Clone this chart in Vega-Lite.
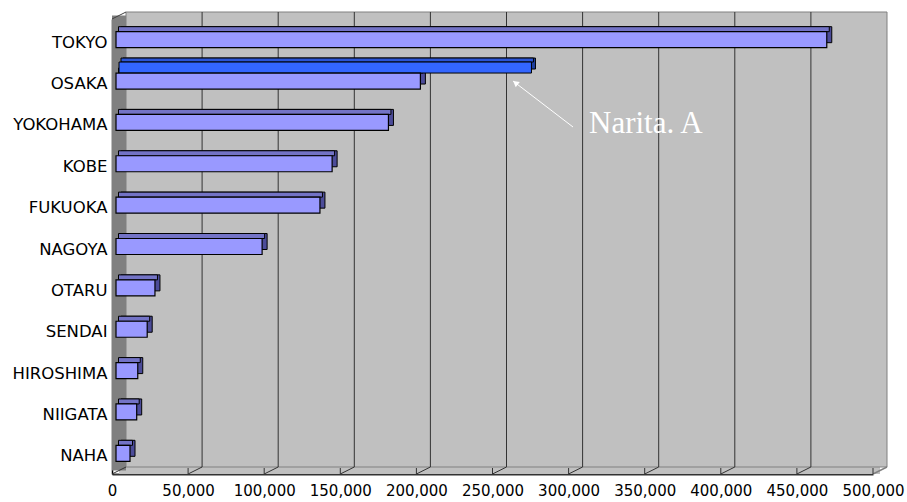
{
  "$schema": "https://vega.github.io/schema/vega-lite/v6.json",
  "width": 761,
  "height": 455,
  "autosize": {"type": "none"},
  "padding": {"left": 112, "top": 19, "right": 34, "bottom": 28},
  "background": "white",
  "config": {
    "view": {"stroke": null},
    "font": "DejaVu Sans",
    "axis": {"grid": false, "ticks": false, "labelColor": "#000000", "labelFont": "DejaVu Sans"},
    "axisX": {"domainColor": "#333333", "domainWidth": 2, "labelFontSize": 15, "labelPadding": 9, "labelFlush": false, "labelOverlap": false},
    "axisY": {"domainColor": "#000000", "domainWidth": 1.5, "labelFontSize": 16.5, "labelPadding": 5, "labelOffset": 3}
  },
  "datasets": {
    "port": [
      {"city": "TOKYO", "value": 467000},
      {"city": "OSAKA", "value": 200000},
      {"city": "YOKOHAMA", "value": 179000},
      {"city": "KOBE", "value": 142000},
      {"city": "FUKUOKA", "value": 134000},
      {"city": "NAGOYA", "value": 96000},
      {"city": "OTARU", "value": 25600},
      {"city": "SENDAI", "value": 20500},
      {"city": "HIROSHIMA", "value": 14300},
      {"city": "NIIGATA", "value": 13600},
      {"city": "NAHA", "value": 9200}
    ],
    "narita": [{"city": "OSAKA", "value": 271000}],
    "ticks": [
      {"v": 0}, {"v": 50000}, {"v": 100000}, {"v": 150000}, {"v": 200000}, {"v": 250000},
      {"v": 300000}, {"v": 350000}, {"v": 400000}, {"v": 450000}, {"v": 500000}
    ],
    "note": [{"label": "Narita. A", "city": "YOKOHAMA", "x": 313400}],
    "arrow": [{"city": "OSAKA", "city2": "YOKOHAMA", "x": 263500, "x2": 302900}],
    "one": [{"k": 1}]
  },
  "layer": [
    {
      "data": {"name": "one"},
      "mark": {"type": "rect", "fill": "#C0C0C0", "xOffset": 7, "x2Offset": 7, "yOffset": -7},
      "encoding": {
        "x": {"datum": 0, "type": "quantitative", "scale": {"domain": [0, 500000], "nice": false}, "title": null, "axis": {"format": ",d", "values": [0, 50000, 100000, 150000, 200000, 250000, 300000, 350000, 400000, 450000, 500000]}},
        "x2": {"datum": 500000},
        "y": {"value": "height"},
        "y2": {"value": "height"}
      }
    },
    {
      "data": {"name": "one"},
      "mark": {"type": "rect", "fill": "#C0C0C0", "stroke": "#808080", "strokeWidth": 1, "xOffset": 14, "x2Offset": 14, "yOffset": -7, "y2Offset": -7},
      "encoding": {
        "x": {"datum": 0, "type": "quantitative", "scale": {"domain": [0, 500000], "nice": false}, "title": null, "axis": {"format": ",d", "values": [0, 50000, 100000, 150000, 200000, 250000, 300000, 350000, 400000, 450000, 500000]}},
        "x2": {"datum": 500000},
        "y": {"value": 0},
        "y2": {"value": "height"}
      }
    },
    {
      "data": {"name": "one"},
      "mark": {"type": "rect", "fill": "#808080", "x2Offset": 14, "yOffset": -3.5, "y2Offset": -3.5},
      "encoding": {
        "x": {"datum": 0, "type": "quantitative", "scale": {"domain": [0, 500000], "nice": false}, "title": null, "axis": {"format": ",d", "values": [0, 50000, 100000, 150000, 200000, 250000, 300000, 350000, 400000, 450000, 500000]}},
        "x2": {"datum": 0},
        "y": {"value": 0},
        "y2": {"value": "height"}
      }
    },
    {
      "data": {"name": "one"},
      "mark": {"type": "rule", "color": "#404040", "strokeWidth": 1, "x2Offset": 14, "y2Offset": -7},
      "encoding": {
        "x": {"datum": 0, "type": "quantitative", "scale": {"domain": [0, 500000], "nice": false}, "title": null, "axis": {"format": ",d", "values": [0, 50000, 100000, 150000, 200000, 250000, 300000, 350000, 400000, 450000, 500000]}},
        "x2": {"datum": 0},
        "y": {"value": 0},
        "y2": {"value": 0}
      }
    },
    {
      "data": {"name": "ticks"},
      "transform": [{"filter": "datum.v > 0 && datum.v < 500000"}],
      "mark": {"type": "rule", "color": "#333333", "strokeWidth": 1, "xOffset": 14, "yOffset": -7, "y2Offset": -7},
      "encoding": {
        "x": {"field": "v", "type": "quantitative", "scale": {"domain": [0, 500000], "nice": false}, "title": null, "axis": {"format": ",d", "values": [0, 50000, 100000, 150000, 200000, 250000, 300000, 350000, 400000, 450000, 500000]}},
        "y": {"value": 0},
        "y2": {"value": "height"}
      }
    },
    {
      "data": {"name": "ticks"},
      "transform": [{"filter": "datum.v < 500000"}],
      "mark": {"type": "rule", "color": "#333333", "strokeWidth": 1, "x2Offset": 14, "y2Offset": -7},
      "encoding": {
        "x": {"field": "v", "type": "quantitative", "scale": {"domain": [0, 500000], "nice": false}, "title": null, "axis": {"format": ",d", "values": [0, 50000, 100000, 150000, 200000, 250000, 300000, 350000, 400000, 450000, 500000]}},
        "x2": {"field": "v"},
        "y": {"value": "height"},
        "y2": {"value": "height"}
      }
    },
    {
      "data": {"name": "ticks"},
      "transform": [{"filter": "datum.v == 500000"}],
      "mark": {"type": "rule", "color": "#808080", "strokeWidth": 1.5, "x2Offset": 14, "y2Offset": -7},
      "encoding": {
        "x": {"field": "v", "type": "quantitative", "scale": {"domain": [0, 500000], "nice": false}, "title": null, "axis": {"format": ",d", "values": [0, 50000, 100000, 150000, 200000, 250000, 300000, 350000, 400000, 450000, 500000]}},
        "x2": {"field": "v"},
        "y": {"value": "height"},
        "y2": {"value": "height"}
      }
    },
    {
      "data": {"name": "ticks"},
      "transform": [{"filter": "datum.v > 0"}],
      "mark": {"type": "rule", "color": "#333333", "strokeWidth": 1, "y2Offset": -6},
      "encoding": {
        "x": {"field": "v", "type": "quantitative", "scale": {"domain": [0, 500000], "nice": false}, "title": null, "axis": {"format": ",d", "values": [0, 50000, 100000, 150000, 200000, 250000, 300000, 350000, 400000, 450000, 500000]}},
        "y": {"value": "height"},
        "y2": {"value": "height"}
      }
    },
    {
      "data": {"name": "port"},
      "mark": {"type": "bar", "size": 16, "fill": "#4C4C99", "stroke": "#000000", "strokeWidth": 1, "xOffset": 9, "x2Offset": 9, "yOffset": -5},
      "encoding": {
        "x": {"field": "value", "type": "quantitative", "scale": {"domain": [0, 500000], "nice": false}, "title": null, "axis": {"format": ",d", "values": [0, 50000, 100000, 150000, 200000, 250000, 300000, 350000, 400000, 450000, 500000]}},
        "x2": {"datum": 0},
        "y": {"field": "city", "type": "nominal", "title": null,
              "scale": {"domain": ["TOKYO", "OSAKA", "YOKOHAMA", "KOBE", "FUKUOKA", "NAGOYA", "OTARU", "SENDAI", "HIROSHIMA", "NIIGATA", "NAHA"], "paddingInner": 0, "paddingOuter": 0}}
      }
    },
    {
      "data": {"name": "port"},
      "mark": {"type": "bar", "size": 5, "fill": "#7373C6", "stroke": "#000000", "strokeWidth": 1, "xOffset": 6.5, "x2Offset": 6.5, "yOffset": -10.5},
      "encoding": {
        "x": {"field": "value", "type": "quantitative", "scale": {"domain": [0, 500000], "nice": false}, "title": null, "axis": {"format": ",d", "values": [0, 50000, 100000, 150000, 200000, 250000, 300000, 350000, 400000, 450000, 500000]}},
        "x2": {"datum": 0},
        "y": {"field": "city", "type": "nominal", "title": null,
              "scale": {"domain": ["TOKYO", "OSAKA", "YOKOHAMA", "KOBE", "FUKUOKA", "NAGOYA", "OTARU", "SENDAI", "HIROSHIMA", "NIIGATA", "NAHA"], "paddingInner": 0, "paddingOuter": 0}}
      }
    },
    {
      "data": {"name": "narita"},
      "mark": {"type": "bar", "size": 11, "fill": "#1F3F9F", "stroke": "#000000", "strokeWidth": 1, "xOffset": 11, "x2Offset": 11, "yOffset": -17.5},
      "encoding": {
        "x": {"field": "value", "type": "quantitative", "scale": {"domain": [0, 500000], "nice": false}, "title": null, "axis": {"format": ",d", "values": [0, 50000, 100000, 150000, 200000, 250000, 300000, 350000, 400000, 450000, 500000]}},
        "x2": {"datum": 0},
        "y": {"field": "city", "type": "nominal", "title": null,
              "scale": {"domain": ["TOKYO", "OSAKA", "YOKOHAMA", "KOBE", "FUKUOKA", "NAGOYA", "OTARU", "SENDAI", "HIROSHIMA", "NIIGATA", "NAHA"], "paddingInner": 0, "paddingOuter": 0}}
      }
    },
    {
      "data": {"name": "narita"},
      "mark": {"type": "bar", "size": 4, "fill": "#2B55D5", "stroke": "#000000", "strokeWidth": 1, "xOffset": 9, "x2Offset": 9, "yOffset": -21},
      "encoding": {
        "x": {"field": "value", "type": "quantitative", "scale": {"domain": [0, 500000], "nice": false}, "title": null, "axis": {"format": ",d", "values": [0, 50000, 100000, 150000, 200000, 250000, 300000, 350000, 400000, 450000, 500000]}},
        "x2": {"datum": 0},
        "y": {"field": "city", "type": "nominal", "title": null,
              "scale": {"domain": ["TOKYO", "OSAKA", "YOKOHAMA", "KOBE", "FUKUOKA", "NAGOYA", "OTARU", "SENDAI", "HIROSHIMA", "NIIGATA", "NAHA"], "paddingInner": 0, "paddingOuter": 0}}
      }
    },
    {
      "data": {"name": "narita"},
      "mark": {"type": "bar", "size": 11, "fill": "#3366FF", "stroke": "#000000", "strokeWidth": 1, "xOffset": 7, "x2Offset": 7, "yOffset": -13.5},
      "encoding": {
        "x": {"field": "value", "type": "quantitative", "scale": {"domain": [0, 500000], "nice": false}, "title": null, "axis": {"format": ",d", "values": [0, 50000, 100000, 150000, 200000, 250000, 300000, 350000, 400000, 450000, 500000]}},
        "x2": {"datum": 0},
        "y": {"field": "city", "type": "nominal", "title": null,
              "scale": {"domain": ["TOKYO", "OSAKA", "YOKOHAMA", "KOBE", "FUKUOKA", "NAGOYA", "OTARU", "SENDAI", "HIROSHIMA", "NIIGATA", "NAHA"], "paddingInner": 0, "paddingOuter": 0}}
      }
    },
    {
      "data": {"name": "port"},
      "mark": {"type": "bar", "size": 16, "fill": "#9999FF", "stroke": "#000000", "strokeWidth": 1.2, "xOffset": 4, "x2Offset": 4},
      "encoding": {
        "x": {"field": "value", "type": "quantitative", "scale": {"domain": [0, 500000], "nice": false}, "title": null, "axis": {"format": ",d", "values": [0, 50000, 100000, 150000, 200000, 250000, 300000, 350000, 400000, 450000, 500000]}},
        "x2": {"datum": 0},
        "y": {"field": "city", "type": "nominal", "title": null,
              "scale": {"domain": ["TOKYO", "OSAKA", "YOKOHAMA", "KOBE", "FUKUOKA", "NAGOYA", "OTARU", "SENDAI", "HIROSHIMA", "NIIGATA", "NAHA"], "paddingInner": 0, "paddingOuter": 0}}
      }
    },
    {
      "data": {"name": "arrow"},
      "mark": {"type": "rule", "color": "#FFFFFF", "strokeWidth": 1, "y2Offset": 4.6},
      "encoding": {
        "x": {"field": "x", "type": "quantitative", "scale": {"domain": [0, 500000], "nice": false}, "title": null, "axis": {"format": ",d", "values": [0, 50000, 100000, 150000, 200000, 250000, 300000, 350000, 400000, 450000, 500000]}},
        "x2": {"field": "x2"},
        "y": {"field": "city", "type": "nominal", "title": null,
              "scale": {"domain": ["TOKYO", "OSAKA", "YOKOHAMA", "KOBE", "FUKUOKA", "NAGOYA", "OTARU", "SENDAI", "HIROSHIMA", "NIIGATA", "NAHA"], "paddingInner": 0, "paddingOuter": 0}},
        "y2": {"field": "city2"}
      }
    },
    {
      "data": {"name": "arrow"},
      "mark": {"type": "point", "shape": "triangle-up", "filled": true, "fill": "#FFFFFF", "opacity": 1, "size": 45, "angle": 307.5, "xOffset": 2.4, "yOffset": 1.8},
      "encoding": {
        "x": {"field": "x", "type": "quantitative", "scale": {"domain": [0, 500000], "nice": false}, "title": null, "axis": {"format": ",d", "values": [0, 50000, 100000, 150000, 200000, 250000, 300000, 350000, 400000, 450000, 500000]}},
        "y": {"field": "city", "type": "nominal", "title": null,
              "scale": {"domain": ["TOKYO", "OSAKA", "YOKOHAMA", "KOBE", "FUKUOKA", "NAGOYA", "OTARU", "SENDAI", "HIROSHIMA", "NIIGATA", "NAHA"], "paddingInner": 0, "paddingOuter": 0}}
      }
    },
    {
      "data": {"name": "note"},
      "mark": {"type": "text", "align": "left", "baseline": "alphabetic", "font": "Liberation Serif", "fontSize": 31, "fill": "#FFFFFF", "yOffset": 10.6},
      "encoding": {
        "x": {"field": "x", "type": "quantitative", "scale": {"domain": [0, 500000], "nice": false}, "title": null, "axis": {"format": ",d", "values": [0, 50000, 100000, 150000, 200000, 250000, 300000, 350000, 400000, 450000, 500000]}},
        "y": {"field": "city", "type": "nominal", "title": null,
              "scale": {"domain": ["TOKYO", "OSAKA", "YOKOHAMA", "KOBE", "FUKUOKA", "NAGOYA", "OTARU", "SENDAI", "HIROSHIMA", "NIIGATA", "NAHA"], "paddingInner": 0, "paddingOuter": 0}},
        "text": {"field": "label"}
      }
    }
  ]
}
